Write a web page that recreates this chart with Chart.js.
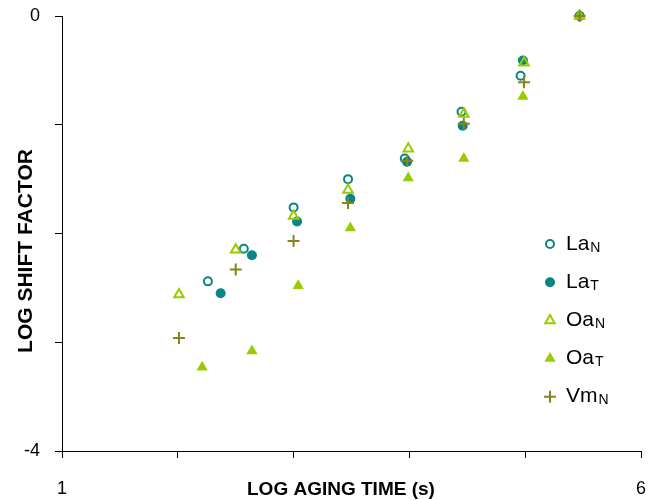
<!DOCTYPE html>
<html>
<head>
<meta charset="utf-8">
<script src="https://cdn.jsdelivr.net/npm/chart.js@4/dist/chart.umd.min.js"></script>
<style>
  html, body { margin: 0; padding: 0; background: #fff; }
</style>
</head>
<body>
<canvas id="myChart" width="668" height="500"></canvas>
<script>
// values (log aging time vs log shift factor)
const laNx = [2.26, 2.57, 3.00, 3.47, 3.96, 4.45, 4.96, 5.47];
const laNy = [-2.44, -2.14, -1.76, -1.50, -1.31, -0.88, -0.55, 0];
const laTx = [2.37, 2.64, 3.03, 3.49, 3.98, 4.46, 4.98, 5.47];
const laTy = [-2.55, -2.20, -1.89, -1.68, -1.34, -1.01, -0.41, 0];
const oaNx = [2.01, 2.50, 3.00, 3.47, 3.99, 4.47, 4.99, 5.47];
const oaNy = [-2.56, -2.15, -1.84, -1.60, -1.22, -0.90, -0.43, 0];
const oaTx = [2.21, 2.64, 3.04, 3.49, 3.99, 4.47, 4.98, 5.47];
const oaTy = [-3.23, -3.08, -2.48, -1.95, -1.49, -1.31, -0.74, 0];
const vmNx = [2.01, 2.50, 3.00, 3.47, 3.98, 4.47, 4.99, 5.47];
const vmNy = [-2.96, -2.33, -2.07, -1.72, -1.33, -0.99, -0.61, 0];

const seriesNames = ['La', 'La', 'Oa', 'Oa', 'Vm'];
const seriesSubs = ['N', 'T', 'N', 'T', 'N'];
const xTickLabels = [1, 6];
const yTickLabels = [0, -4];

const teal = '#0a8585';
const lime = '#99cc00';
const olive = '#85851a';
const fontFam = 'Arial, "Liberation Sans", sans-serif';

function pts(xs, ys) {
  return xs.map((x, i) => ({ x: x, y: ys[i] }));
}

// legend with subscripts, drawn on the canvas
const subLegend = {
  id: 'subLegend',
  afterDraw(chart) {
    const ctx = chart.ctx;
    ctx.save();
    chart.data.datasets.forEach((ds, i) => {
      const y = 244 + i * 38.2;
      ctx.fillStyle = ds.backgroundColor;
      ctx.strokeStyle = ds.borderColor;
      ctx.lineWidth = ds.borderWidth;
      Chart.helpers.drawPoint(ctx, {
        pointStyle: ds.pointStyle,
        radius: ds.pointRadius,
        borderWidth: ds.borderWidth,
        rotation: 0
      }, 550, y);
      ctx.fillStyle = '#000';
      ctx.textBaseline = 'alphabetic';
      ctx.textAlign = 'left';
      ctx.font = '21px ' + fontFam;
      ctx.fillText(seriesNames[i], 566, y + 5.5);
      const w = ctx.measureText(seriesNames[i]).width;
      ctx.font = '14px ' + fontFam;
      ctx.fillText(seriesSubs[i], 566 + w + 1, y + 7.5);
    });
    ctx.restore();
  }
};

const ctx = document.getElementById('myChart');
const grafico = new Chart(ctx, {
  type: 'scatter',
  data: {
    datasets: [{
      label: 'LaN',
      data: pts(laNx, laNy),
      pointStyle: 'circle',
      pointRadius: 4,
      borderWidth: 2,
      borderColor: teal,
      backgroundColor: 'rgba(0,0,0,0)',
      order: 4,
      clip: false
    }, {
      label: 'LaT',
      data: pts(laTx, laTy),
      pointStyle: 'circle',
      pointRadius: 5,
      borderWidth: 0,
      borderColor: teal,
      backgroundColor: teal,
      order: 3,
      clip: false
    }, {
      label: 'OaN',
      data: pts(oaNx, oaNy),
      pointStyle: 'triangle',
      pointRadius: 5.5,
      borderWidth: 2,
      borderColor: lime,
      backgroundColor: 'rgba(0,0,0,0)',
      order: 2,
      clip: false
    }, {
      label: 'OaT',
      data: pts(oaTx, oaTy),
      pointStyle: 'triangle',
      pointRadius: 6.5,
      borderWidth: 0,
      borderColor: lime,
      backgroundColor: lime,
      order: 1,
      clip: false
    }, {
      label: 'VmN',
      data: pts(vmNx, vmNy),
      pointStyle: 'cross',
      pointRadius: 6,
      borderWidth: 2,
      borderColor: olive,
      backgroundColor: olive,
      order: 0,
      clip: false
    }]
  },
  options: {
    responsive: false,
    animation: false,
    events: [],
    layout: { padding: { left: 0, right: 27, top: 16, bottom: 0 } },
    plugins: {
      legend: { display: false },
      tooltip: { enabled: false }
    },
    scales: {
      x: {
        type: 'linear',
        min: 1,
        max: 6,
        afterFit(scale) { scale.height = 49; },
        ticks: {
          stepSize: 1,
          padding: 20,
          color: '#000',
          maxRotation: 0,
          font: { family: fontFam, size: 18 },
          callback: v => xTickLabels.includes(v) ? String(v) : ''
        },
        grid: { drawOnChartArea: false, tickLength: 7, color: '#000', lineWidth: 1 },
        border: { color: '#000', width: 1 },
        title: {
          display: true,
          text: 'LOG AGING TIME (s)    ',
          color: '#000',
          font: { family: fontFam, size: 19, weight: 'bold' },
          padding: { top: 0, bottom: -1 }
        }
      },
      y: {
        type: 'linear',
        min: -4,
        max: 0,
        afterFit(scale) {
          scale.width = 62;
          scale.paddingTop = 0;
          scale.paddingBottom = 0;
        },
        ticks: {
          stepSize: 1,
          padding: 15,
          color: '#000',
          font: { family: fontFam, size: 18 },
          callback: v => yTickLabels.includes(v) ? String(v) : ''
        },
        grid: { drawOnChartArea: false, tickLength: 7, color: '#000', lineWidth: 1 },
        border: { color: '#000', width: 1 },
        title: {
          display: true,
          text: 'LOG SHIFT FACTOR      ',
          color: '#000',
          font: { family: fontFam, size: 21, weight: 'bold' },
          padding: { top: 14, bottom: 0 }
        }
      }
    }
  },
  plugins: [subLegend]
});
</script>
</body>
</html>
